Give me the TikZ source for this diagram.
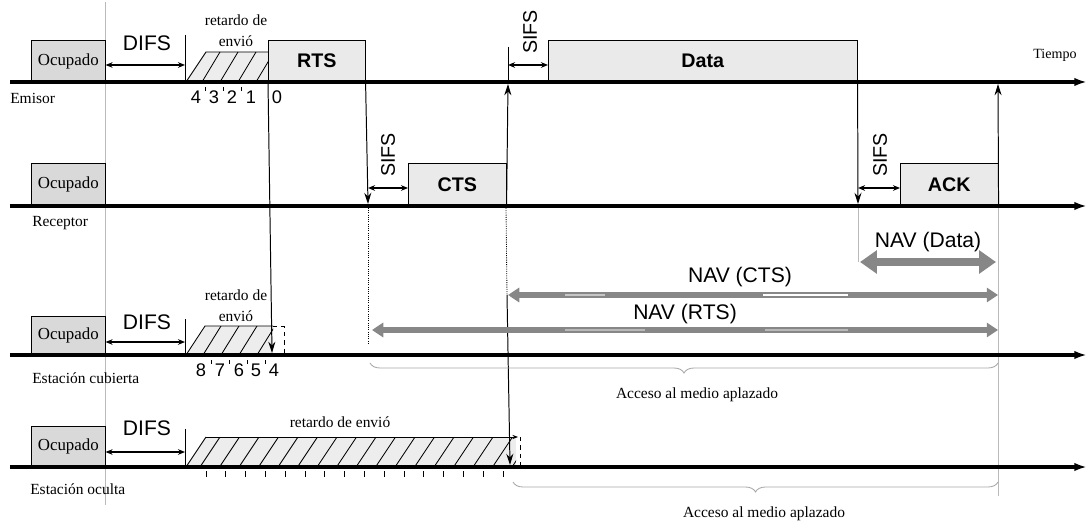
\documentclass[tikz,border=0pt]{standalone}
\usepackage{fontspec}
\setmainfont{Liberation Serif}
\setsansfont{Liberation Sans}
\usetikzlibrary{arrows.meta,decorations.pathreplacing,positioning}
\definecolor{busygray}{RGB}{217,217,217}
\definecolor{pktgray}{RGB}{234,234,234}
\definecolor{navgray}{RGB}{135,135,135}
\newcommand{\pxl}{0.025cm}

\begin{document}
\begin{tikzpicture}[x=0.025cm,y=-0.025cm,
  timeline/.style={line width=2.8pt,-{Latex[length=9pt,width=6pt]}},
  busy/.style={draw,fill=busygray,anchor=south west,inner sep=0pt,minimum width=74*\pxl,font=\fontsize{12}{14}\selectfont},
  pktbox/.style={draw,fill=pktgray,anchor=south west,inner sep=0pt,font=\sffamily\bfseries\fontsize{14}{16}\selectfont},
  rowlbl/.style={anchor=west,inner sep=0pt,font=\fontsize{11}{13}\selectfont},
  note/.style={inner sep=0pt,align=center,font=\fontsize{11}{15}\selectfont},
  ifslbl/.style={inner sep=0pt,font=\sffamily\fontsize{15}{17}\selectfont},
  sifslbl/.style={inner sep=0pt,rotate=90,font=\sffamily\fontsize{14}{16}\selectfont},
  num/.style={inner sep=0pt,font=\sffamily\fontsize{13}{15}\selectfont},
  navlbl/.style={inner sep=0pt,font=\sffamily\fontsize{15}{17}\selectfont},
  gap/.style={<->,>={Stealth[length=5pt,width=4pt]},line width=0.8pt},
  link/.style={line width=0.7pt,-{Stealth[length=8pt,width=5pt]}},
  dotline/.style={densely dotted,line width=0.6pt},
  faint/.style={gray!55,line width=0.6pt},
  hatchfill/.style={fill=gray!14},
  hatch/.style={line width=0.6pt},
  navbig/.style={navgray,line width=6pt,{Triangle[length=12pt,width=16pt]}-{Triangle[length=12pt,width=16pt]}},
  nav/.style={navgray,line width=4.5pt,{Triangle[length=8pt,width=10pt]}-{Triangle[length=8pt,width=10pt]}},
  brc/.style={gray!70,line width=0.6pt,decorate,decoration={brace,mirror,amplitude=0.25cm}}]

  \useasboundingbox (0,0) rectangle (1090,524);

  % light guide under the busy boxes
  \draw[faint] (105,2) -- (105,505);

  % send delay (hatched)
  \begin{scope}
    \clip (186,82) -- (206,52) -- (268,52) -- (268,82) -- cycle;
    \fill[hatchfill] (186,82) -- (206,52) -- (268,52) -- (268,82) -- cycle;
    \foreach \u in {202,220,238,256} \draw[hatch] (\u,82) -- ++(18,-30);
  \end{scope}
  \draw[hatch] (186,82) -- (206,52) -- (268,52);
  \begin{scope}
    \clip (186,355) -- (205,326) -- (273,326) -- (273,355) -- cycle;
    \fill[hatchfill] (186,355) -- (205,326) -- (273,326) -- (273,355) -- cycle;
    \foreach \u in {203,221,239,257} \draw[hatch] (\u,355) -- ++(18,-29);
  \end{scope}
  \draw[hatch] (186,355) -- (205,326) -- (273,326);
  \draw[dashed,line width=0.6pt] (273,326) -- (284,326) -- (284,355);
  \begin{scope}
    \clip (186,467) -- (206,437) -- (516,437) -- (516,467) -- cycle;
    \fill[hatchfill] (186,467) -- (206,437) -- (516,437) -- (516,467) -- cycle;
    \foreach \k in {0,...,16} \draw[hatch] ({200+19.5*\k},467) -- ++(20,-30);
  \end{scope}
  \draw[hatch] (186,467) -- (206,437);
  \draw[hatch,-{Stealth[length=4pt,width=3pt]}] (206,437) -- (518,437);
  \draw[dashed,line width=0.6pt] (520,437) -- (520,467);

  % frames
  \node[busy,minimum height=41*\pxl] (busyE) at (31,82) {Ocupado};
  \node[pktbox,minimum width=97*\pxl,minimum height=41*\pxl] (rts) at (268,82) {RTS};
  \node[pktbox,minimum width=309*\pxl,minimum height=41*\pxl] (data) at (548,82) {Data};
  \node[busy,minimum height=42*\pxl] (busyR) at (31,206) {Ocupado};
  \node[pktbox,minimum width=98*\pxl,minimum height=42*\pxl] (cts) at (408,206) {CTS};
  \node[pktbox,minimum width=98*\pxl,minimum height=42*\pxl] (ack) at (900,206) {ACK};
  \node[busy,minimum height=38*\pxl] (busyC) at (31,355) {Ocupado};
  \node[busy,minimum height=40*\pxl] (busyO) at (31,467) {Ocupado};

  % DIFS
  \node[ifslbl] (difsE) at (147,43) {DIFS};
  \node[ifslbl] (difsC) at (147,322) {DIFS};
  \node[ifslbl] (difsO) at (147,428) {DIFS};
  \draw[hatch] (185,35) -- (185,82);
  \draw[hatch] (185,319) -- (185,355);
  \draw[hatch] (185,429) -- (185,467);
  \draw[gap] (busyE.east |- 0,65) -- (185,65);
  \draw[gap] (busyC.east |- 0,342) -- (185,342);
  \draw[gap] (busyO.east |- 0,452) -- (185,452);

  \node[note] (retE) at (236,31) {retardo de\\envió};
  \node[note] (retC) at (236,306) {retardo de\\envió};
  \node[note] (retO) at (340,422) {retardo de envió};

  % SIFS
  \node[sifslbl] (sifsE) at (530,32) {SIFS};
  \node[sifslbl] (sifsR) at (388,155) {SIFS};
  \node[sifslbl] (sifsA) at (880,155) {SIFS};
  \draw[hatch] (508,47) -- (508,80);
  \draw[gap] (508,65) -- (data.west |- 0,65);
  \draw[gap] (368,188) -- (cts.west |- 0,188);
  \draw[gap] (858,188) -- (ack.west |- 0,188);

  % vertical links
  \draw[link] (rts.south west) -- (272,353);
  \draw[link] (rts.south east) -- (368,204);
  \draw[dotline] (368,208) -- (368,345);
  \draw[link] (cts.south east) -- (508,84);
  \draw[dotline] (506,208) -- (507,295);
  \draw[link] (507,295) -- (510,465);
  \draw[link] (data.south east) -- (858,204);
  \draw[faint] (858,208) -- (858,262);
  \draw[link] (ack.south east) -- (998,84);
  \draw[faint] (998,208) -- (998,496);

  % time axes
  \draw[timeline] (10,82) -- (1087,82);
  \draw[timeline] (10,206) -- (1087,206);
  \draw[timeline] (10,355) -- (1087,355);
  \draw[timeline] (10,467) -- (1087,467);
  \node[note,font=\fontsize{10}{12}\selectfont] (tiempo) at (1055,55) {Tiempo};

  \node[rowlbl] (lblE) at (10,98) {Emisor};
  \node[rowlbl] (lblR) at (32,223) {Receptor};
  \node[rowlbl] (lblC) at (32,378) {Estación cubierta};
  \node[rowlbl] (lblO) at (30,489) {Estación oculta};

  % slot counters
  \foreach \v/\xx in {4/196,3/214,2/232,1/251,0/277} \node[num] (ce\v) at (\xx,97) {\v};
  \foreach \xx in {205,223,241} \draw[hatch] (\xx,87) -- (\xx,91);
  \foreach \v/\xx in {8/201,7/220,6/239,5/256,4/274} \node[num] (cc\v) at (\xx,370) {\v};
  \foreach \xx in {211,229,247,265} \draw[hatch] (\xx,360) -- (\xx,364);
  \foreach \k in {0,...,15} \draw[hatch] ({206+19.8*\k},471) -- ++(0,6);

  % NAV
  \node[navlbl] (navD) at (928,242) {NAV (Data)};
  \draw[navbig] (860,262) -- (996,262);
  \node[navlbl] (navC) at (740,277) {NAV (CTS)};
  \draw[nav] (508,295) -- (998,295);
  \draw[gray!45,line width=2pt] (565,295) -- (605,295);
  \draw[white,line width=1.2pt] (763,295) -- (848,295);
  \node[navlbl] (navR) at (685,314) {NAV (RTS)};
  \draw[nav] (372,330) -- (998,330);
  \draw[gray!55,line width=2pt] (565,330) -- (645,330);
  \draw[gray!55,line width=2pt] (765,330) -- (848,330);

  % deferred access
  \draw[brc] (370,363) -- (998,363);
  \node[note] (accC) at (697,395) {Acceso al medio aplazado};
  \draw[brc] (513,482) -- (998,482);
  \node[note] (accO) at (764,514) {Acceso al medio aplazado};
\end{tikzpicture}
\end{document}
